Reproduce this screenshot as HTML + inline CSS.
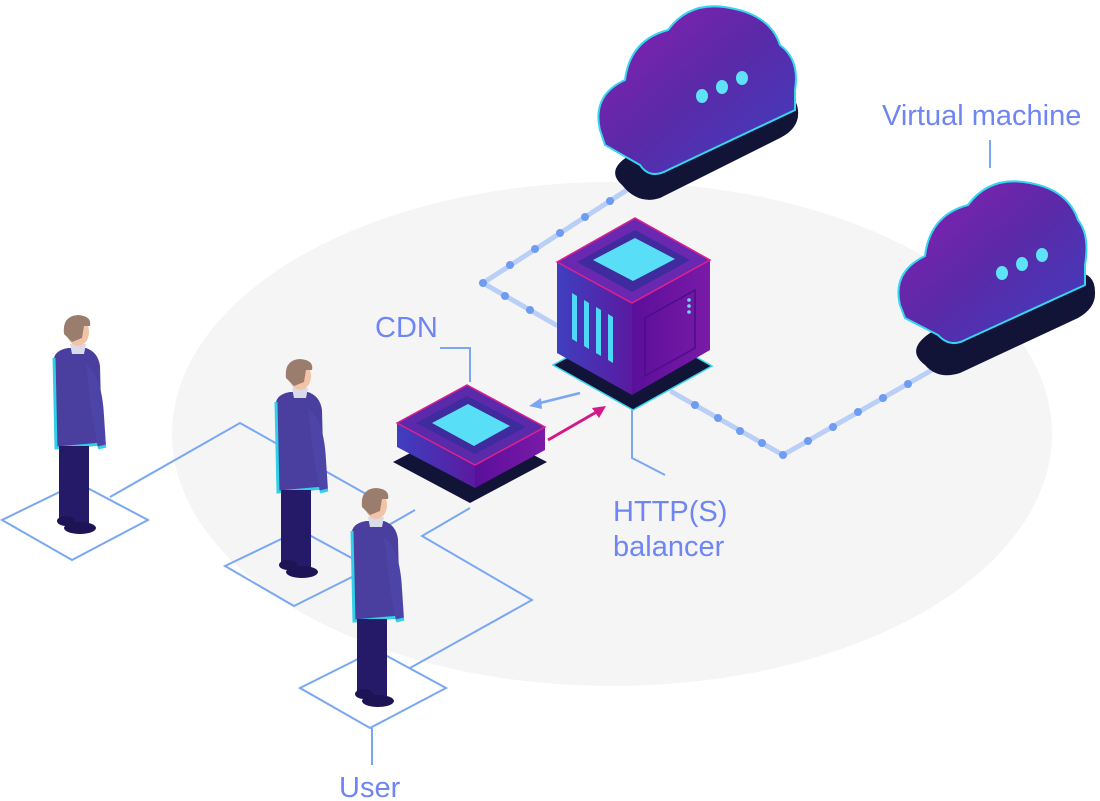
<!DOCTYPE html>
<html><head><meta charset="utf-8"><style>
html,body{margin:0;padding:0;background:#fff;}
svg{display:block}
text{font-family:"Liberation Sans",sans-serif;fill:#6f86f2;font-size:29px}
</style></head><body>
<svg width="1100" height="801" viewBox="0 0 1100 801" xmlns="http://www.w3.org/2000/svg">
<defs>
<linearGradient id="cl" x1="0" y1="0" x2="1" y2="1">
<stop offset="0" stop-color="#8a1fb0"/><stop offset="0.5" stop-color="#5a2aa8"/><stop offset="1" stop-color="#3d3fc0"/></linearGradient>
<linearGradient id="lf" x1="0" y1="0" x2="1" y2="0">
<stop offset="0" stop-color="#3f3fc0"/><stop offset="1" stop-color="#5a1aa0"/></linearGradient>
<linearGradient id="rf" x1="0" y1="0" x2="1" y2="0">
<stop offset="0" stop-color="#5a0f9a"/><stop offset="1" stop-color="#7a1aa8"/></linearGradient>
<g id="p">
<path d="M-22 42 Q-20 34 -8 32 L10 32 Q22 36 24 50 L26 128 L-20 132 Z" fill="#4a3f9e"/>
<path d="M-22 42 L-20 132 L26 128" stroke="#2fd0e8" stroke-width="3" fill="none"/>
<path d="M10 48 Q26 60 28 100 L30 130 L22 132 L16 100 Z" fill="#4d44a8"/>
<path d="M22 132 L30 130" stroke="#2fd0e8" stroke-width="3"/>
<rect x="-17" y="130" width="30" height="78" fill="#241a68"/>
<ellipse cx="4" cy="212" rx="16" ry="6" fill="#1d1455"/>
<ellipse cx="-10" cy="205" rx="9" ry="5" fill="#1d1455"/>
<path d="M-6 28 L10 28 L8 38 L-4 38 Z" fill="#d9dce8"/>
<ellipse cx="2" cy="16" rx="11" ry="14" fill="#f2c4a6"/>
<path d="M-12 18 Q-14 0 2 -1 Q16 0 14 10 L8 10 L6 22 L-4 26 Z" fill="#9b7d6d"/>
</g>
</defs>

<ellipse cx="612" cy="434" rx="440" ry="252" fill="#f5f5f6"/>

<g fill="none" stroke="#7aa7f2" stroke-width="2">
<path d="M2 520 L78 483 L148 520 L72 560 Z"/>
<path d="M110 497 L240 423 L366 494"/>
<path d="M225 566 L300 530 L370 568 L294 606 Z"/>
<path d="M300 688 L376 650 L446 688 L370 728 Z"/>
<path d="M410 668 L532 600 L422 536 L470 508"/>
<path d="M352 546 L415 510"/>
<path d="M372 728 L372 765"/>
<path d="M440 348 L470 348 L470 382"/>
<path d="M632 410 L632 458 L665 475"/>
<path d="M990 140 L990 168"/>
</g>

<g fill="none" stroke="#b9cff7" stroke-width="5" stroke-linecap="round">
<path d="M630 188 L483 283 L556 325"/>
<path d="M672 392 L783 455 L932 370"/>
</g>
<g fill="#6e9cf2">
<circle cx="610" cy="201" r="4"/><circle cx="585" cy="217" r="4"/><circle cx="560" cy="233" r="4"/><circle cx="535" cy="249" r="4"/><circle cx="510" cy="265" r="4"/><circle cx="483" cy="283" r="4"/><circle cx="505" cy="296" r="4"/><circle cx="530" cy="310" r="4"/>
<circle cx="695" cy="405" r="4"/><circle cx="718" cy="418" r="4"/><circle cx="740" cy="431" r="4"/><circle cx="762" cy="443" r="4"/><circle cx="783" cy="455" r="4"/><circle cx="808" cy="441" r="4"/><circle cx="833" cy="427" r="4"/><circle cx="858" cy="412" r="4"/><circle cx="883" cy="398" r="4"/><circle cx="908" cy="384" r="4"/>
</g>

<path d="M622 185 Q605 170 630 155 L760 95 Q795 86 798 110 Q800 128 780 138 L660 198 Q638 205 622 185 Z" fill="#111437"/>
<path d="M600 130 Q592 95 625 80 Q630 40 668 30 Q690 0 730 8 Q770 15 780 45 Q800 60 795 90 L795 110 L668 170 Q650 180 640 165 L605 145 Z" fill="url(#cl)" stroke="#36d5f0" stroke-width="2"/>
<ellipse cx="702" cy="96" rx="6" ry="7" fill="#5ee2f8"/><ellipse cx="722" cy="87" rx="6" ry="7" fill="#5ee2f8"/><ellipse cx="742" cy="78" rx="6" ry="7" fill="#5ee2f8"/>

<path d="M925 365 Q905 350 930 333 L1060 275 Q1095 266 1095 292 Q1096 308 1078 318 L960 373 Q938 380 925 365 Z" fill="#111437"/>
<path d="M900 305 Q892 272 925 256 Q930 215 968 205 Q990 175 1030 183 Q1068 190 1078 220 Q1090 235 1085 265 L1085 285 L965 340 Q950 348 938 335 L905 318 Z" fill="url(#cl)" stroke="#36d5f0" stroke-width="2"/>
<ellipse cx="1002" cy="273" rx="6" ry="7" fill="#5ee2f8"/><ellipse cx="1022" cy="264" rx="6" ry="7" fill="#5ee2f8"/><ellipse cx="1042" cy="255" rx="6" ry="7" fill="#5ee2f8"/>

<path d="M553 365 L633 410 L712 366 L633 322 Z" fill="#111437" stroke="#36d5f0" stroke-width="1.5"/>
<path d="M557 262 L632 303 L632 395 L557 353 Z" fill="url(#lf)"/>
<path d="M632 303 L710 260 L710 350 L632 395 Z" fill="url(#rf)"/>
<path d="M557 262 L635 218 L710 260 L632 303 Z" fill="#6a28b0" stroke="#e0208f" stroke-width="1.5"/>
<path d="M577 262 L635 230 L690 260 L632 292 Z" fill="#3f2a9e"/>
<path d="M593 260 L635 238 L675 259 L633 281 Z" fill="#58dff7"/>
<path d="M572 293 L577 296 L577 342 L572 339 Z M584 300 L589 303 L589 349 L584 346 Z M596 307 L601 310 L601 356 L596 353 Z M608 314 L613 317 L613 363 L608 360 Z" fill="#4fd8f5"/>
<path d="M645 318 L695 290 L695 348 L645 376 Z" fill="none" stroke="#4a0f88" stroke-width="1.5"/>
<circle cx="689" cy="300" r="1.8" fill="#6fd8f5"/><circle cx="689" cy="306" r="1.8" fill="#6fd8f5"/><circle cx="689" cy="312" r="1.8" fill="#6fd8f5"/>

<path d="M393 462 L470 503 L547 462 L470 422 Z" fill="#111437"/>
<path d="M397 423 L475 465 L475 488 L397 447 Z" fill="url(#lf)"/>
<path d="M475 465 L545 427 L545 450 L475 488 Z" fill="url(#rf)"/>
<path d="M397 423 L467 385 L545 427 L475 465 Z" fill="#5a2aaa" stroke="#e0208f" stroke-width="1.5"/>
<path d="M416 423 L467 396 L526 427 L475 454 Z" fill="#3f2a9e"/>
<path d="M432 423 L468 404 L510 426 L474 446 Z" fill="#58dff7"/>

<path d="M548 440 L600 410" stroke="#d4188a" stroke-width="3"/>
<path d="M606 406 L592 408 L599 418 Z" fill="#d4188a"/>
<path d="M580 393 L536 404" stroke="#7aa7f2" stroke-width="2.5"/>
<path d="M529 406 L541 398 L542 409 Z" fill="#7aa7f2"/>

<use href="#p" x="76" y="316"/>
<use href="#p" x="298" y="360"/>
<use href="#p" x="374" y="489"/>

<text x="882" y="125">Virtual machine</text>
<text x="375" y="337">CDN</text>
<text x="613" y="521">HTTP(S)</text>
<text x="613" y="556">balancer</text>
<text x="339" y="797">User</text>
</svg>
</body></html>
